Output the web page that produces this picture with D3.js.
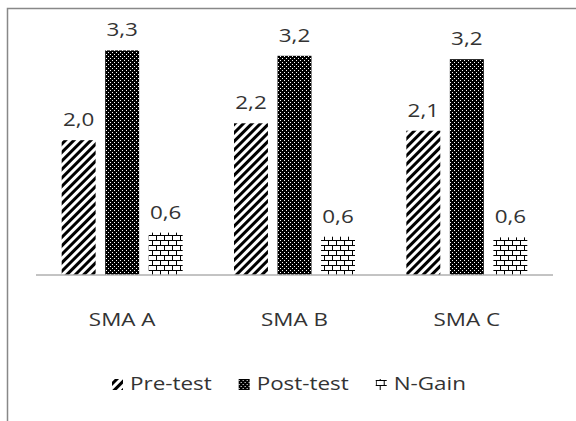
<!DOCTYPE html>
<html>
<head>
<meta charset="utf-8">
<script src="https://cdn.jsdelivr.net/npm/d3@7"></script>
<style>
  body { margin: 0; background: #fff; }
  text { font-family: "Open Sans", sans-serif; fill: #333; }
</style>
</head>
<body>
<div id="chart-area"></div>
<script>
let width = 576,
height = 421;

// data
let categories = ['SMA A', 'SMA B', 'SMA C']
let series = ['Pre-test', 'Post-test', 'N-Gain']
let preTest = [1.99, 2.24, 2.13]
let postTest = [3.32, 3.24, 3.19]
let nGain = [0.62, 0.56, 0.55]

let seriesValues = [preTest, postTest, nGain]
let patternIds = ['hatch', 'dots', 'brick']

// the original text is wide and short, so stretch it a bit
let fontSize = '19px'
let stretch = 1.18

let rows = []
categories.forEach((c, i) => {
	series.forEach((s, j) => {
		rows.push({cat: c, series: s, value: seriesValues[j][i], pat: patternIds[j]})
	})
})

let svg = d3.select('#chart-area').append('svg')
	.attr('width', width)
	.attr('height', height)

// patterns
let defs = svg.append('defs')

let hatch = defs.append('pattern')
	.attr('id', 'hatch')
	.attr('patternUnits', 'userSpaceOnUse')
	.attr('width', 6).attr('height', 6)
	.attr('patternTransform', 'rotate(45)')
hatch.append('rect').attr('width', 6).attr('height', 6).attr('fill', '#fff')
hatch.append('rect').attr('width', 3).attr('height', 6).attr('fill', '#000')

let dots = defs.append('pattern')
	.attr('id', 'dots')
	.attr('patternUnits', 'userSpaceOnUse')
	.attr('width', 4).attr('height', 4)
dots.append('rect').attr('width', 4).attr('height', 4).attr('fill', '#000')
dots.append('rect').attr('x', 0).attr('y', 0).attr('width', 1).attr('height', 1).attr('fill', '#fff')
dots.append('rect').attr('x', 2).attr('y', 2).attr('width', 1).attr('height', 1).attr('fill', '#fff')

let brick = defs.append('pattern')
	.attr('id', 'brick')
	.attr('patternUnits', 'userSpaceOnUse')
	.attr('width', 8).attr('height', 10)
brick.append('rect').attr('width', 8).attr('height', 10).attr('fill', '#fff')
brick.append('path')
	.attr('d', 'M0,0.5H8M0,5.5H8M0.5,0V5M4.5,5V10')
	.attr('stroke', '#000')
	.attr('stroke-width', 1)
	.attr('fill', 'none')

// frame (cropped on right and bottom)
svg.append('path')
	.attr('d', 'M7.5,' + height + 'V8.5H' + width)
	.attr('fill', 'none')
	.attr('stroke', '#888')
	.attr('stroke-width', 1.5)

// scales
let x = d3.scaleBand()
	.domain(categories)
	.range([36, 553])

let xInner = d3.scaleBand()
	.domain(series)
	.range([0, x.bandwidth()])
	.paddingInner(0.22)
	.paddingOuter(0.59)

let y = d3.scaleLinear()
	.domain([0, 3.5])
	.range([274.5, 38.25])

let fmt = d => d3.format('.1f')(d).replace('.', ',')

// bars
svg.selectAll('.bar')
	.data(rows)
	.enter().append('rect')
	.attr('class', 'bar')
	.attr('x', d => x(d.cat) + xInner(d.series))
	.attr('y', d => y(d.value))
	.attr('width', xInner.bandwidth())
	.attr('height', d => y(0) - y(d.value))
	.attr('fill', d => 'url(#' + d.pat + ')')

// value labels
svg.selectAll('.label')
	.data(rows)
	.enter().append('text')
	.attr('class', 'label')
	.attr('transform', d => 'translate(' + (x(d.cat) + xInner(d.series) + xInner.bandwidth() / 2) + ',' + (y(d.value) - 14) + ') scale(' + stretch + ',1)')
	.attr('text-anchor', 'middle')
	.style('font-size', fontSize)
	.text(d => fmt(d.value))

// baseline + category axis
let xAxis = svg.append('g')
	.attr('transform', 'translate(0,' + y(0) + ')')
	.call(d3.axisBottom(x).tickSize(0).tickPadding(0))
xAxis.select('.domain').attr('stroke', '#888').attr('d', 'M36,0.5H553')
xAxis.selectAll('.tick text')
	.attr('y', 0)
	.attr('dy', 0)
	.attr('transform', 'translate(0,51) scale(' + stretch + ',1)')
	.attr('fill', '#333')
	.style('font-family', '"Open Sans", sans-serif')
	.style('font-size', fontSize)

// legend
let legend = svg.append('g').attr('class', 'legend')
let lx = 112
series.forEach((s, j) => {
	let g = legend.append('g').attr('transform', 'translate(' + lx + ',0)')
	g.append('rect')
		.attr('x', 0).attr('y', 379)
		.attr('width', 11).attr('height', 11)
		.attr('fill', 'url(#' + patternIds[j] + ')')
	let t = g.append('text')
		.attr('transform', 'translate(18,390) scale(' + stretch + ',1)')
		.style('font-size', fontSize)
		.text(s)
	lx += 18 + t.node().getComputedTextLength() * stretch + 27
})
</script>
</body>
</html>
